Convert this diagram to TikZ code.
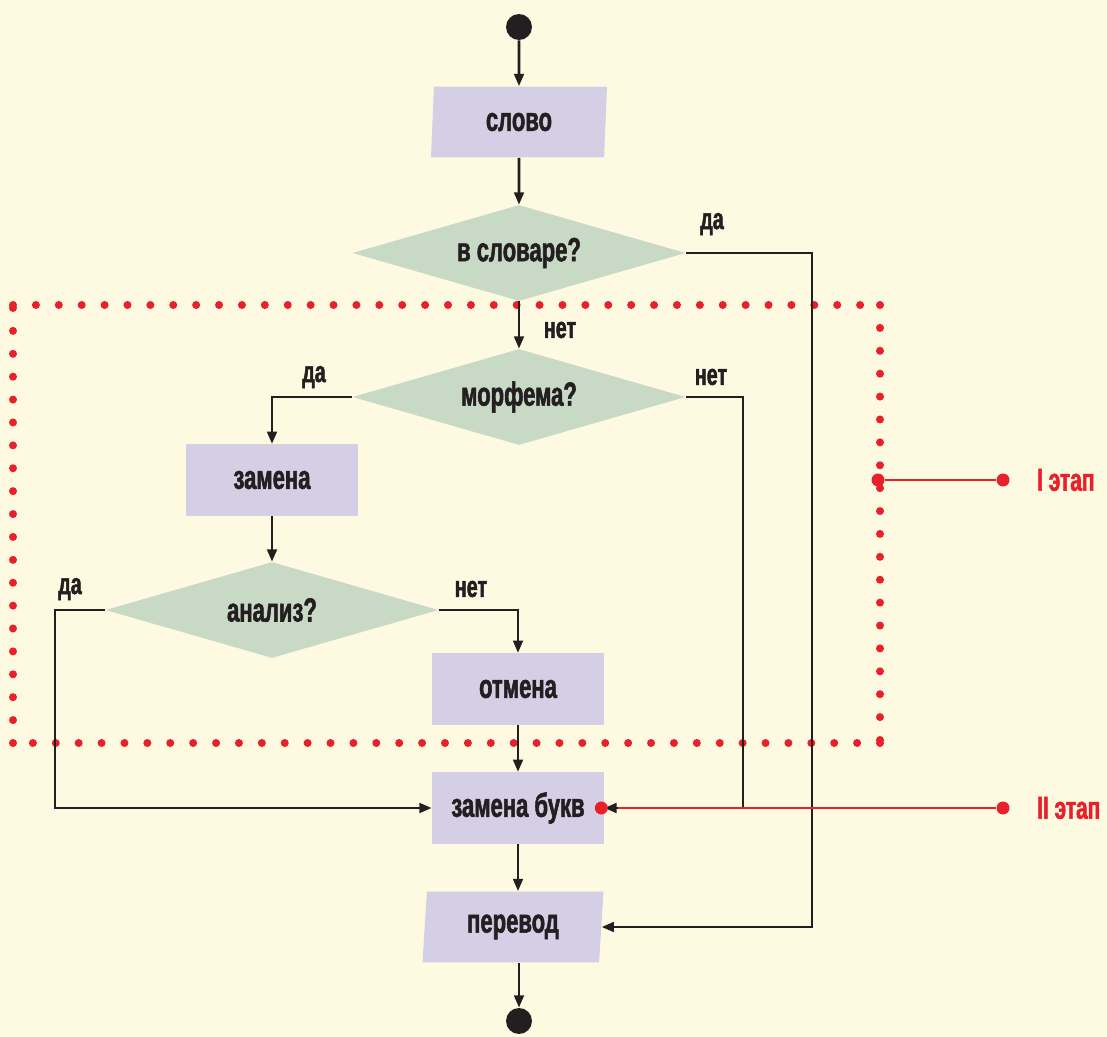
\documentclass[tikz,border=0pt]{standalone}
\usepackage{fontspec}
\setmainfont{Liberation Sans}[FakeStretch=0.66, BoldFeatures={FakeBold=1.6}]
\usetikzlibrary{arrows.meta}
\usetikzlibrary{shapes.geometric}
\definecolor{bgcream}{RGB}{254,249,225}
\definecolor{lilac}{RGB}{213,207,229}
\definecolor{sage}{RGB}{200,217,197}
\definecolor{etapred}{RGB}{232,32,42}
\definecolor{ink}{RGB}{35,31,32}

\begin{document}
\begin{tikzpicture}[x=0.02cm,y=-0.02cm,
    every node/.style = {font=\fontsize{19}{22}\selectfont\bfseries, text=ink},
    io/.style = {trapezium, trapezium left angle=81, trapezium right angle=99,
                 trapezium stretches body, fill=lilac, inner sep=0pt,
                 minimum width=3.52cm, minimum height=1.42cm},
    proc/.style = {rectangle, fill=lilac, minimum width=3.44cm, minimum height=1.43cm},
    ask/.style = {diamond, fill=sage, aspect=3.5, inner sep=0pt,
                  minimum width=6.66cm, minimum height=1.92cm},
    term/.style = {circle, fill=ink, minimum size=0.52cm, inner sep=0pt},
    lbl/.style = {font=\fontsize{17}{19}\selectfont\bfseries},
    flow/.style = {draw=ink, line width=1.5pt, -{Triangle[length=7pt,width=5.5pt]}},
    etap/.style = {draw=etapred, line width=1.5pt},
    reddot/.style = {circle, fill=etapred, minimum size=0.26cm, inner sep=0pt},
    dotline/.style = {draw=etapred, line width=0.16cm, line cap=round,
                      dash pattern=on 0pt off 0.458cm}]
		\useasboundingbox (0,0) rectangle (1107,1037);
		\fill[bgcream] (0,0) rectangle (1107,1037);
		% stage I frame
		\draw[dotline] (13,305) -- (880,305);
		\draw[dotline] (880,743) -- (13,743);
		\draw[dotline] (13,743) -- (13,305);
		\draw[dotline] (880,305) -- (880,743);
		% blocks
		\node[term] (start) at (519,27) {};
		\node[io] (slovo) at (519,122) {\raisebox{-3pt}{слово}};
		\node[ask] (dict) at (519,253) {\raisebox{-2pt}{в словаре?}};
		\node[ask] (morph) at (519,397) {морфема?};
		\node[proc] (zam) at (272,480) {\raisebox{-2pt}{замена}};
		\node[ask] (anal) at (272,610) {анализ?};
		\node[proc] (otm) at (518,689) {\raisebox{-2pt}{отмена}};
		\node[proc] (zambuk) at (518,808) {замена букв};
		\node[io, minimum width=3.62cm, trapezium left angle=80, trapezium right angle=100]
			(perev) at (513,927) {перевод};
		\node[term] (stop) at (519,1021) {};
		% bends
		\coordinate (dictbus) at (812,253);
		\coordinate (morphbus) at (743,397);
		\coordinate (analbus) at (55,610);
		% connectors
		\draw[flow] (start) -- (slovo);
		\draw[flow] (slovo) -- (dict);
		\draw[flow] (dict) -- (morph);
		\draw[flow] (dict.east) -- (dictbus) |- (perev.east);
		\draw[flow] (morph.west) -| (zam.north);
		\draw[flow] (morph.east) -- (morphbus) |- (zambuk.east);
		\draw[flow] (zam) -- (anal);
		\draw[flow] (anal.west) -- (analbus) |- (zambuk.west);
		\draw[flow] (anal.east) -| (otm.north);
		\draw[flow] (otm) -- (zambuk);
		\draw[flow] (zambuk.south) -- (zambuk.south |- perev.north);
		\draw[flow] (perev.south -| stop) -- (stop);
		% answers
		\node[lbl] (daA) at (712,224) {да};
		\node[lbl] (netA) at (560,330) {нет};
		\node[lbl] (daB) at (314,377) {да};
		\node[lbl] (netB) at (711,377) {нет};
		\node[lbl] (daC) at (70,589) {да};
		\node[lbl] (netC) at (471,589) {нет};
		% stages
		\node[reddot] (etapIa) at (878,480) {};
		\node[reddot] (etapIb) at (1003,480) {};
		\draw[etap] (etapIa) -- (etapIb);
		\node[lbl, text=etapred, font=\fontsize{18}{20}\selectfont\bfseries, anchor=west]
			(etapI) at (1031,480) {I этап};
		\node[reddot] (etapIIb) at (1003,808) {};
		\draw[etap] (etapIIb) -- ([xshift=0.28cm]zambuk.east);
		\node[reddot] (etapIIa) at ([xshift=-0.06cm]zambuk.east) {};
		\node[lbl, text=etapred, font=\fontsize{18}{20}\selectfont\bfseries, anchor=west]
			(etapII) at (1031,808) {II этап};
\end{tikzpicture}
\end{document}
